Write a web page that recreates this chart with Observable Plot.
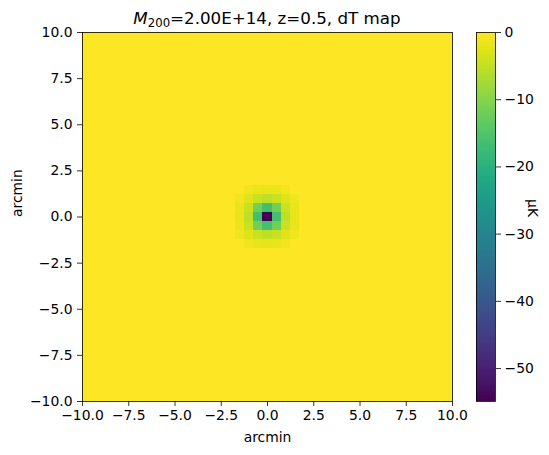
<!DOCTYPE html>
<html>
<head>
<meta charset="utf-8">
<script src="https://cdn.jsdelivr.net/npm/d3@7"></script>
<script src="https://cdn.jsdelivr.net/npm/@observablehq/plot@0.6"></script>
<style>
  html, body { margin: 0; padding: 0; background: #fff; }
  #wrap { position: relative; width: 549px; height: 455px; font-family: "DejaVu Sans", sans-serif; }
  #wrap > * { position: absolute; }
  #title { left: 267px; top: 10px; transform: translateX(-50%); font-size: 16.7px; line-height: 16.7px; white-space: nowrap; color: #000; }
  #title sub { font-size: 70%; vertical-align: -0.22em; line-height: 0; }
</style>
</head>
<body>
<div id="wrap"></div>
<script>
// ---- data ----
const extent = [-10, 10];          // arcmin, both axes
const nPix = 41;                    // map is nPix x nPix
const xTicks = [-10, -7.5, -5, -2.5, 0, 2.5, 5, 7.5, 10];
const yTicks = [-10, -7.5, -5, -2.5, 0, 2.5, 5, 7.5, 10];
const cbarTicks = [0, -10, -20, -30, -40, -50];
// central 7x7 block of dT values (μK), top row = highest y; all other pixels are 0
const core = [
  [   0, -1.2, -1.8,  -2.1, -1.8, -1.2,    0],
  [-1.2, -2.6, -4.5,  -5.5, -4.5, -2.6, -1.2],
  [-1.8, -4.5,  -12, -16.5,  -12, -4.5, -1.8],
  [-2.1, -5.5, -16.5, -54.9, -16.5, -5.5, -2.1],
  [-1.8, -4.5,  -12, -16.5,  -12, -4.5, -1.8],
  [-1.2, -2.6, -4.5,  -5.5, -4.5, -2.6, -1.2],
  [   0, -1.2, -1.8,  -2.1, -1.8, -1.2,    0]
];
const titleHTML = '<i>M</i><sub>200</sub>=2.00E+14, z=0.5, dT map';
const xLabel = "arcmin", yLabel = "arcmin", cbarLabel = "μK";

// ---- build the grid ----
const w = (extent[1] - extent[0]) / nPix;
const c = Math.floor(nPix / 2), h = Math.floor(core.length / 2);
const cells = [];
for (let j = 0; j < nPix; j++) {        // j: row from top
  for (let i = 0; i < nPix; i++) {
    const dj = j - c + h, di = i - c + h;
    const v = (dj >= 0 && dj < core.length && di >= 0 && di < core.length) ? core[dj][di] : 0;
    cells.push({
      x1: extent[0] + i * w, x2: extent[0] + (i + 1) * w,
      y1: extent[1] - (j + 1) * w, y2: extent[1] - j * w, v
    });
  }
}
const vExt = d3.extent(cells, d => d.v);
const fmt = d3.format(".1f");
const font = { fontFamily: "DejaVu Sans", fontSize: "13.9px", color: "#000", background: "transparent", overflow: "visible" };

const main = Plot.plot({
  width: 549, height: 455,
  marginLeft: 82, marginRight: 97, marginTop: 32, marginBottom: 54,
  style: font,
  x: { domain: extent, label: null },
  y: { domain: extent, label: null },
  color: { type: "linear", scheme: "viridis", domain: vExt },
  marks: [
    Plot.rect(cells, { x1: "x1", x2: "x2", y1: "y1", y2: "y2", fill: "v", shapeRendering: "crispEdges" }),
    Plot.frame({ stroke: "#000", strokeWidth: 0.8 }),
    Plot.axisX({ ticks: xTicks, tickFormat: fmt, tickSize: 5, tickPadding: 4, strokeWidth: 0.8, label: null, fontSize: 13.9 }),
    Plot.axisY({ ticks: yTicks, tickFormat: fmt, tickSize: 5, tickPadding: 5, strokeWidth: 0.8, label: null, fontSize: 13.9 }),
    Plot.text([xLabel], { frameAnchor: "bottom", dy: 40, text: d => d, fontSize: 13.9 }),
    Plot.text([yLabel], { frameAnchor: "left", dx: -65, rotate: -90, text: d => d, fontSize: 13.9 })
  ]
});
main.style.left = "0px"; main.style.top = "0px";

// colorbar
const steps = 300;
const bins = d3.range(steps).map(k => ({
  y1: vExt[0] + (vExt[1] - vExt[0]) * k / steps,
  y2: vExt[0] + (vExt[1] - vExt[0]) * (k + 1) / steps
}));
bins.forEach(b => b.v = (b.y1 + b.y2) / 2);
const cbar = Plot.plot({
  width: 73, height: 455,
  marginLeft: 0, marginRight: 54, marginTop: 32, marginBottom: 54,
  style: font,
  y: { domain: vExt, label: null },
  color: { type: "linear", scheme: "viridis", domain: vExt },
  marks: [
    Plot.rect(bins, { y1: "y1", y2: "y2", fill: "v", shapeRendering: "crispEdges" }),
    Plot.frame({ stroke: "#000", strokeWidth: 0.8 }),
    Plot.axisY({ anchor: "right", ticks: cbarTicks, tickFormat: d3.format("d"), tickSize: 5, tickPadding: 4, strokeWidth: 0.8, label: null, fontSize: 13.9 }),
    Plot.text([cbarLabel], { frameAnchor: "right", dx: 37, rotate: 90, text: d => d, fontSize: 13.9 })
  ]
});
cbar.style.left = "476px"; cbar.style.top = "0px";

const wrap = document.getElementById("wrap");
wrap.appendChild(main);
wrap.appendChild(cbar);
const t = document.createElement("div");
t.id = "title"; t.innerHTML = titleHTML;
wrap.appendChild(t);
</script>
</body>
</html>
